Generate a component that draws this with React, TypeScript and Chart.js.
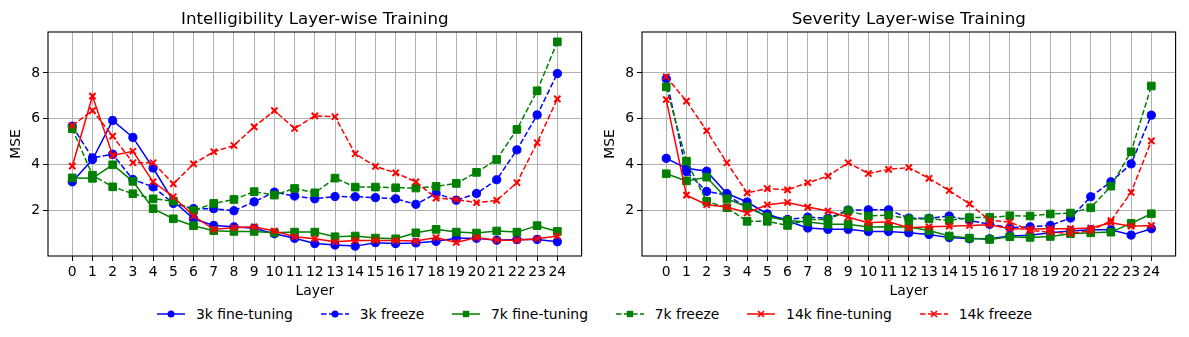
import React, { useEffect, useRef } from 'react';
import { Chart, registerables } from 'chart.js';
Chart.register(...registerables);

const layers = [0, 1, 2, 3, 4, 5, 6, 7, 8, 9, 10, 11, 12, 13, 14, 15, 16, 17, 18, 19, 20, 21, 22, 23, 24];
const yTicks = [2, 4, 6, 8];
const seriesNames = ['3k fine-tuning', '3k freeze', '7k fine-tuning', '7k freeze', '14k fine-tuning', '14k freeze'];

// Intelligibility
const int3kFt = [3.26, 4.23, 5.93, 5.19, 3.86, 2.42, 1.65, 1.36, 1.30, 1.24, 1.00, 0.80, 0.57, 0.51, 0.46, 0.61, 0.57, 0.60, 0.67, 0.80, 0.80, 0.72, 0.75, 0.75, 0.65];
const int3kFz = [5.68, 4.30, 4.46, 3.36, 3.04, 2.32, 2.09, 2.09, 2.00, 2.39, 2.81, 2.64, 2.52, 2.62, 2.61, 2.57, 2.52, 2.28, 2.75, 2.46, 2.75, 3.35, 4.65, 6.17, 7.97];
const int7kFt = [3.43, 3.41, 4.00, 3.28, 2.09, 1.65, 1.35, 1.13, 1.10, 1.10, 1.04, 1.07, 1.07, 0.87, 0.90, 0.81, 0.78, 1.04, 1.19, 1.07, 1.03, 1.12, 1.07, 1.35, 1.10];
const int7kFz = [5.57, 3.55, 3.04, 2.74, 2.52, 2.42, 2.01, 2.32, 2.49, 2.83, 2.68, 2.97, 2.78, 3.42, 3.03, 3.03, 3.00, 2.99, 3.06, 3.19, 3.67, 4.23, 5.54, 7.22, 9.35];
const int14kFt = [3.94, 6.99, 4.41, 4.59, 3.26, 2.61, 1.77, 1.19, 1.26, 1.30, 1.12, 0.87, 0.78, 0.65, 0.71, 0.71, 0.70, 0.68, 0.83, 0.62, 0.83, 0.72, 0.72, 0.78, 0.90];
const int14kFz = [5.71, 6.36, 5.25, 4.09, 4.09, 3.17, 4.04, 4.57, 4.84, 5.65, 6.36, 5.58, 6.13, 6.09, 4.48, 3.93, 3.65, 3.26, 2.55, 2.49, 2.35, 2.45, 3.22, 4.96, 6.87];

// Severity
const sev3kFt = [4.28, 3.85, 3.72, 2.75, 2.38, 1.86, 1.55, 1.25, 1.19, 1.19, 1.10, 1.10, 1.04, 0.97, 0.83, 0.78, 0.78, 0.90, 0.93, 1.04, 1.12, 1.17, 1.17, 0.94, 1.22];
const sev3kFz = [7.74, 3.70, 2.84, 2.68, 2.13, 1.80, 1.62, 1.72, 1.67, 2.03, 2.04, 2.04, 1.68, 1.67, 1.77, 1.58, 1.41, 1.26, 1.30, 1.36, 1.68, 2.61, 3.26, 4.04, 6.16];
const sev7kFt = [3.61, 3.30, 3.46, 2.52, 2.17, 1.74, 1.58, 1.51, 1.41, 1.41, 1.29, 1.30, 1.29, 1.14, 0.90, 0.81, 0.75, 0.87, 0.84, 0.88, 1.00, 1.04, 1.07, 1.45, 1.87];
const sev7kFz = [7.39, 4.16, 2.41, 2.13, 1.54, 1.54, 1.36, 1.62, 1.62, 2.00, 1.77, 1.81, 1.64, 1.65, 1.58, 1.70, 1.71, 1.78, 1.77, 1.86, 1.90, 2.13, 3.07, 4.57, 7.43];
const sev14kFt = [6.84, 2.68, 2.26, 2.16, 1.91, 2.26, 2.36, 2.16, 1.99, 1.72, 1.48, 1.52, 1.26, 1.30, 1.33, 1.36, 1.39, 1.22, 1.20, 1.22, 1.22, 1.25, 1.48, 1.33, 1.36];
const sev14kFz = [7.83, 6.77, 5.48, 4.09, 2.78, 2.96, 2.91, 3.22, 3.51, 4.09, 3.62, 3.80, 3.88, 3.41, 2.88, 2.30, 1.58, 1.51, 1.14, 1.07, 1.01, 1.13, 1.57, 2.80, 5.04];

const colors = ['#0000ff', '#0000ff', '#008000', '#008000', '#ff0000', '#ff0000'];
const dashed = [false, true, false, true, false, true];
const markers = ['circle', 'circle', 'rect', 'rect', 'crossRot', 'crossRot'];
const markerRadius: Record<string, number> = { circle: 4.1, rect: 5.4, crossRot: 4.4 };

const FONT = '"DejaVu Sans", sans-serif';
const TICK_PX = 13.9;
const LINE_W = 1.5;
const DASH = [5.6, 2.4];

const frameTitlePlugin = {
  id: 'frameTitle',
  afterDraw(chart: any, _args: any, opts: any) {
    const { ctx, chartArea: a } = chart;
    ctx.save();
    ctx.strokeStyle = '#000';
    ctx.lineWidth = 1.1;
    ctx.strokeRect(a.left, a.top, a.right - a.left, a.bottom - a.top);
    ctx.fillStyle = '#000';
    ctx.font = `16.7px ${FONT}`;
    ctx.textAlign = 'center';
    ctx.textBaseline = 'alphabetic';
    ctx.fillText(opts.text, (a.left + a.right) / 2, a.top - 8.5);
    ctx.restore();
  },
};

function Panel({ title, series, left }: { title: string; series: number[][]; left: number }) {
  const ref = useRef<HTMLCanvasElement>(null);
  useEffect(() => {
    if (!ref.current) return;
    const datasets = series.map((vals, i) => {
      const m = markers[i];
      return {
        label: seriesNames[i],
        data: vals.map((v, j) => ({ x: layers[j], y: v })),
        borderColor: colors[i],
        backgroundColor: colors[i],
        borderWidth: LINE_W,
        borderDash: dashed[i] ? DASH : [],
        pointStyle: m,
        pointRadius: markerRadius[m],
        pointBorderWidth: m === 'crossRot' ? 2 : 1,
        pointBorderColor: colors[i],
        pointBackgroundColor: colors[i],
        tension: 0,
        order: 6 - i,
      };
    });
    const tickFont = { family: FONT, size: TICK_PX };
    const chart = new Chart(ref.current, {
      type: 'line',
      data: { datasets },
      plugins: [frameTitlePlugin],
      options: {
        animation: false,
        responsive: false,
        devicePixelRatio: 1,
        layout: { padding: { top: 32, left: 0, right: 2, bottom: 0 } },
        plugins: {
          legend: { display: false },
          title: { display: false },
          tooltip: { enabled: false },
          frameTitle: { text: title },
        } as any,
        scales: {
          x: {
            type: 'linear',
            min: -1.2,
            max: 25.2,
            afterBuildTicks: (s: any) => {
              s.ticks = layers.map((v) => ({ value: v }));
            },
            afterFit: (s: any) => {
              s.height = 46;
            },
            ticks: {
              autoSkip: false,
              maxRotation: 0,
              minRotation: 0,
              color: '#000',
              font: tickFont,
              padding: 3,
              callback: (v: any) => String(v),
            },
            grid: { color: '#b0b0b0', lineWidth: 1, tickColor: '#000', tickLength: 5, drawTicks: true },
            border: { display: false },
            title: { display: true, text: 'Layer', color: '#000', font: tickFont, padding: { top: 0, bottom: 2 } },
          },
          y: {
            type: 'linear',
            min: 0.03,
            max: 9.78,
            afterBuildTicks: (s: any) => {
              s.ticks = yTicks.map((v) => ({ value: v }));
            },
            afterFit: (s: any) => {
              s.width = 48;
            },
            ticks: {
              color: '#000',
              font: tickFont,
              padding: 3,
              callback: (v: any) => String(v),
            },
            grid: { color: '#b0b0b0', lineWidth: 1, tickColor: '#000', tickLength: 5, drawTicks: true },
            border: { display: false },
            title: { display: true, text: 'MSE', color: '#000', font: tickFont, padding: { top: 8.5, bottom: 0 } },
          },
        },
      } as any,
    });
    return () => chart.destroy();
  }, []);
  return (
    <canvas
      ref={ref}
      width={588}
      height={302}
      style={{ position: 'absolute', left, top: 0, width: 588, height: 302 }}
    />
  );
}

function LegendMarker({ i }: { i: number }) {
  const c = colors[i];
  const m = markers[i];
  let marker: React.ReactNode = null;
  if (m === 'circle') marker = <circle cx={14} cy={7} r={3.5} fill={c} />;
  else if (m === 'rect') marker = <rect x={10.8} y={3.8} width={6.4} height={6.4} fill={c} />;
  else
    marker = (
      <g stroke={c} strokeWidth={1.6}>
        <line x1={11} y1={4} x2={17} y2={10} />
        <line x1={17} y1={4} x2={11} y2={10} />
      </g>
    );
  return (
    <svg width={28} height={14} style={{ display: 'block', marginRight: 11 }}>
      <line x1={0} y1={7} x2={28} y2={7} stroke={c} strokeWidth={LINE_W} strokeDasharray={dashed[i] ? DASH.join(' ') : undefined} />
      {marker}
    </svg>
  );
}

export default function App() {
  return (
    <div style={{ position: 'fixed', left: 0, top: 0, width: 1189, height: 337, background: '#fff', overflow: 'hidden' }}>
      <Panel title="Intelligibility Layer-wise Training" left={0} series={[int3kFt, int3kFz, int7kFt, int7kFz, int14kFt, int14kFz]} />
      <Panel title="Severity Layer-wise Training" left={594} series={[sev3kFt, sev3kFz, sev7kFt, sev7kFz, sev14kFt, sev14kFz]} />
      <div
        style={{
          position: 'absolute',
          left: 0,
          top: 305,
          width: 1189,
          height: 18,
          display: 'flex',
          justifyContent: 'center',
          alignItems: 'center',
          fontFamily: FONT,
          fontSize: TICK_PX,
          color: '#000',
          lineHeight: '18px',
          whiteSpace: 'nowrap',
        }}
      >
        {seriesNames.map((n, i) => (
          <div key={n} style={{ display: 'flex', alignItems: 'center', marginRight: i < seriesNames.length - 1 ? 27.8 : 0 }}>
            <LegendMarker i={i} />
            <span>{n}</span>
          </div>
        ))}
      </div>
    </div>
  );
}
